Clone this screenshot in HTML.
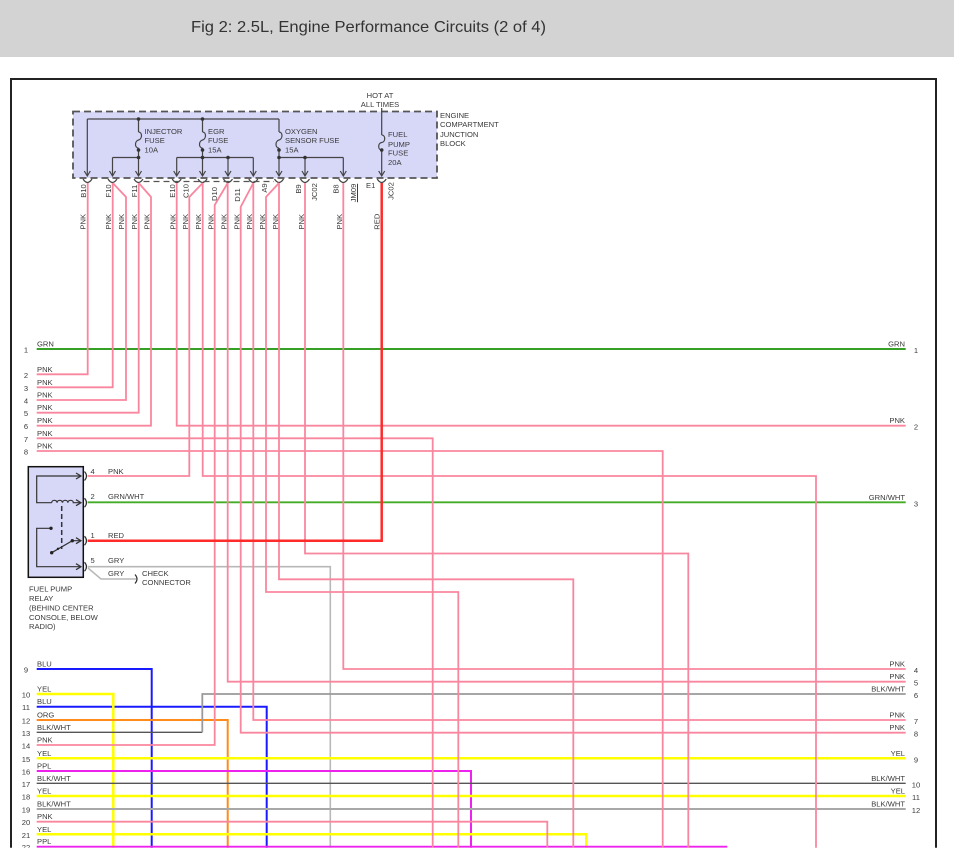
<!DOCTYPE html>
<html>
<head>
<meta charset="utf-8">
<style>
  html,body{margin:0;padding:0;background:#fff;}
  svg{display:block;}
  text{font-family:"Liberation Sans",Arial,sans-serif;fill:#3a3a3a;font-size:7.6px;}
</style>
</head>
<body>
<svg width="954" height="863" viewBox="0 0 954 863" xmlns="http://www.w3.org/2000/svg">
  <defs>
    <clipPath id="cp"><rect x="0" y="0" width="954" height="847.8"/></clipPath>
  </defs>
  <rect x="0" y="0" width="954" height="863" fill="#fff"/>
  <!-- header -->
  <rect x="0" y="0" width="954" height="57" fill="#d3d3d3"/>
  <text x="191" y="32" style="font-size:16px;fill:#333" textLength="355" lengthAdjust="spacingAndGlyphs">Fig 2: 2.5L, Engine Performance Circuits (2 of 4)</text>

  <g clip-path="url(#cp)">
    <!-- border -->
    <path d="M11,848 V79 H936 V848" fill="none" stroke="#222" stroke-width="2"/>

    <!-- junction block -->
    <rect x="73" y="111.5" width="364" height="66.5" fill="#d7d7f8" stroke="#555" stroke-width="1.8" stroke-dasharray="7,4"/>
    <g fill="none" stroke="#444" stroke-width="1.2">
      <path d="M87.3,119 H279"/>
      <path d="M87.3,119 V176"/>
      <path d="M138.5,119 V132 M138.5,148 V176"/>
      <path d="M202.5,119 V132 M202.5,148 V176"/>
      <path d="M279,119 V132 M279,148 V176"/>
      <path d="M381.7,108 V135 M381.7,150 V176"/>
      <path d="M112.5,157.5 H138.5 M112.5,157.5 V176"/>
      <path d="M176.7,157.5 H253.3 M176.7,157.5 V176 M228,157.5 V176 M253.3,157.5 V176"/>
      <path d="M279,157.5 H343.3 M305,157.5 V176 M343.3,157.5 V176"/>
      <!-- fuses -->
      <path d="M138.5,132 C142.5,132 142.5,139 138.5,140 C134.5,141 134.5,148 138.5,148"/>
      <path d="M202.5,132 C206.5,132 206.5,139 202.5,140 C198.5,141 198.5,148 202.5,148"/>
      <path d="M279,132 C283,132 283,139 279,140 C275,141 275,148 279,148"/>
      <path d="M381.7,135 C385.7,135 385.7,142 381.7,142.5 C377.7,143 377.7,150 381.7,150"/>
      <!-- arrows -->
      <path d="M84.3,171 L87.3,176 L90.3,171"/>
      <path d="M109.5,171 L112.5,176 L115.5,171"/>
      <path d="M135.5,171 L138.5,176 L141.5,171"/>
      <path d="M173.7,171 L176.7,176 L179.7,171"/>
      <path d="M199.5,171 L202.5,176 L205.5,171"/>
      <path d="M225,171 L228,176 L231,171"/>
      <path d="M250.3,171 L253.3,176 L256.3,171"/>
      <path d="M276,171 L279,176 L282,171"/>
      <path d="M302,171 L305,176 L308,171"/>
      <path d="M340.3,171 L343.3,176 L346.3,171"/>
      <path d="M378.7,171 L381.7,176 L384.7,171"/>
      <!-- connector arcs -->
      <path d="M83,179 Q87.5,186 92,179"/>
      <path d="M108,179 Q112.5,186 117,179"/>
      <path d="M134,179 Q138.5,186 143,179"/>
      <path d="M172.2,179 Q176.7,186 181.2,179"/>
      <path d="M198,179 Q202.5,186 207,179"/>
      <path d="M223.5,179 Q228,186 232.5,179"/>
      <path d="M248.8,179 Q253.3,186 257.8,179"/>
      <path d="M274.5,179 Q279,186 283.5,179"/>
      <path d="M300.5,179 Q305,186 309.5,179"/>
      <path d="M338.8,179 Q343.3,186 347.8,179"/>
      <path d="M377.2,179 Q381.7,186 386.2,179"/>
      <path d="M143.5,181.5 H274" stroke-dasharray="6,4" stroke="#555"/>
    </g>
    <g fill="#333">
      <circle cx="138.5" cy="119" r="1.8"/><circle cx="202.5" cy="119" r="1.8"/>
      <circle cx="138.5" cy="150" r="1.8"/><circle cx="138.5" cy="157.5" r="1.8"/>
      <circle cx="202.5" cy="150" r="1.8"/><circle cx="202.5" cy="157.5" r="1.8"/>
      <circle cx="228" cy="157.5" r="1.8"/>
      <circle cx="279" cy="150" r="1.8"/><circle cx="279" cy="157.5" r="1.8"/>
      <circle cx="305" cy="157.5" r="1.8"/>
      <circle cx="381.7" cy="150" r="1.8"/>
    </g>

    <!-- top labels -->
    <text x="380" y="98" text-anchor="middle">HOT AT</text>
    <text x="380" y="107" text-anchor="middle">ALL TIMES</text>
    <text x="440" y="118">ENGINE</text>
    <text x="440" y="127">COMPARTMENT</text>
    <text x="440" y="137">JUNCTION</text>
    <text x="440" y="146">BLOCK</text>
    <text x="144.5" y="134">INJECTOR</text>
    <text x="144.5" y="143">FUSE</text>
    <text x="144.5" y="152.5">10A</text>
    <text x="208" y="134">EGR</text>
    <text x="208" y="143">FUSE</text>
    <text x="208" y="152.5">15A</text>
    <text x="285" y="134">OXYGEN</text>
    <text x="285" y="143">SENSOR FUSE</text>
    <text x="285" y="152.5">15A</text>
    <text x="388" y="137">FUEL</text>
    <text x="388" y="147">PUMP</text>
    <text x="388" y="155.5">FUSE</text>
    <text x="388" y="165">20A</text>

    <!-- pin labels (rotated) -->
    <text transform="translate(86,191) rotate(-90)" text-anchor="middle">B10</text>
    <text transform="translate(111,191) rotate(-90)" text-anchor="middle">F10</text>
    <text transform="translate(137,191) rotate(-90)" text-anchor="middle">F11</text>
    <text transform="translate(175,191) rotate(-90)" text-anchor="middle">E10</text>
    <text transform="translate(188.5,191) rotate(-90)" text-anchor="middle">C10</text>
    <text transform="translate(217,194) rotate(-90)" text-anchor="middle">D10</text>
    <text transform="translate(240,195) rotate(-90)" text-anchor="middle">D11</text>
    <text transform="translate(267,188) rotate(-90)" text-anchor="middle">A9</text>
    <text transform="translate(301,189) rotate(-90)" text-anchor="middle">B9</text>
    <text transform="translate(317,192) rotate(-90)" text-anchor="middle">JC02</text>
    <text transform="translate(338.5,189) rotate(-90)" text-anchor="middle">B8</text>
    <text transform="translate(356,193) rotate(-90)" text-anchor="middle" text-decoration="underline">JM09</text>
    <line x1="357.5" y1="184" x2="357.5" y2="202" stroke="#333" stroke-width="0.8"/>
    <text x="366" y="188">E1</text>
    <text transform="translate(393.5,191) rotate(-90)" text-anchor="middle">JC02</text>

    <!-- wire color labels (rotated) -->
    <g>
      <text transform="translate(85.5,221.7) rotate(-90)" text-anchor="middle">PNK</text>
      <text transform="translate(111,221.7) rotate(-90)" text-anchor="middle">PNK</text>
      <text transform="translate(124,221.7) rotate(-90)" text-anchor="middle">PNK</text>
      <text transform="translate(137,221.7) rotate(-90)" text-anchor="middle">PNK</text>
      <text transform="translate(149.5,221.7) rotate(-90)" text-anchor="middle">PNK</text>
      <text transform="translate(175.5,221.7) rotate(-90)" text-anchor="middle">PNK</text>
      <text transform="translate(188,221.7) rotate(-90)" text-anchor="middle">PNK</text>
      <text transform="translate(200.8,221.7) rotate(-90)" text-anchor="middle">PNK</text>
      <text transform="translate(213.5,221.7) rotate(-90)" text-anchor="middle">PNK</text>
      <text transform="translate(226.5,221.7) rotate(-90)" text-anchor="middle">PNK</text>
      <text transform="translate(239.5,221.7) rotate(-90)" text-anchor="middle">PNK</text>
      <text transform="translate(252,221.7) rotate(-90)" text-anchor="middle">PNK</text>
      <text transform="translate(265,221.7) rotate(-90)" text-anchor="middle">PNK</text>
      <text transform="translate(278,221.7) rotate(-90)" text-anchor="middle">PNK</text>
      <text transform="translate(304,221.7) rotate(-90)" text-anchor="middle">PNK</text>
      <text transform="translate(342,221.7) rotate(-90)" text-anchor="middle">PNK</text>
      <text transform="translate(379.5,221.7) rotate(-90)" text-anchor="middle">RED</text>
    </g>

    <!-- wires -->
    <g fill="none" stroke-linejoin="miter">
      <!-- green -->
      <path d="M36.7,349 H905.7" stroke="#35a025" stroke-width="2"/>
      <path d="M87.7,502.3 H905.7" stroke="#45ac28" stroke-width="1.8"/>
      <!-- gray from relay pin 5 -->
      <path d="M87.7,566.7 H330.3 V848" stroke="#b8b8b8" stroke-width="1.6"/>
      <path d="M88,568 L101,579 H136" stroke="#b8b8b8" stroke-width="1.5"/>
      <!-- bottom-left colored rows -->
      <path d="M36.7,669 H151.7 V848" stroke="#1a1aff" stroke-width="2"/>
      <path d="M36.7,706.7 H266.7 V848" stroke="#1a1aff" stroke-width="2"/>
      <path d="M36.7,694 H113.3 V848" stroke="#ffff00" stroke-width="2.5"/>
      <path d="M36.7,720 H227.7 V848" stroke="#ff8c1a" stroke-width="2"/>
      <path d="M36.7,732.3 H202.3" stroke="#555" stroke-width="1.3"/>
      <path d="M202.3,732.3 V694 H905.7" stroke="#9a9a9a" stroke-width="1.8"/>
      <path d="M36.7,758.3 H905.7" stroke="#ffff00" stroke-width="2.5"/>
      <path d="M36.7,771 H471 V848" stroke="#ee22ee" stroke-width="2"/>
      <path d="M36.7,783.3 H905.7" stroke="#555" stroke-width="1.3"/>
      <path d="M36.7,796 H905.7" stroke="#ffff00" stroke-width="2.5"/>
      <path d="M36.7,809 H905.7" stroke="#a8a8a8" stroke-width="2"/>
      <path d="M36.7,834.3 H586.3 V848" stroke="#ffff00" stroke-width="2.5"/>
      <path d="M36.7,846.7 H727.3" stroke="#ee22ee" stroke-width="2"/>
      <!-- pink -->
      <g stroke="#f9869f" stroke-width="1.8">
        <path d="M87.7,183 V374.3 H36.7"/>
        <path d="M112.7,183 V387.3 H36.7"/>
        <path d="M112.7,183 L126,197 V400 H36.7"/>
        <path d="M138.7,183 V412.7 H36.7"/>
        <path d="M138.7,183 L151,197 V425.7 H36.7"/>
        <path d="M176.7,183 V425.7 H905.7"/>
        <path d="M202.7,183 L189.3,197 V476 H87.7"/>
        <path d="M202.7,183 V476 H816 V848"/>
        <path d="M227.7,183 L214.7,205 V745 H36.7"/>
        <path d="M227.7,183 V681.7 H905.7"/>
        <path d="M253.3,183 L240.7,207 V732.7 H905.7"/>
        <path d="M253.3,183 V720 H905.7"/>
        <path d="M279,183 L266,197 V592 H458.3 V848"/>
        <path d="M279,183 V579.3 H573.3 V848"/>
        <path d="M305,183 V553.5 H688.3 V848"/>
        <path d="M343.3,183 V669 H905.7"/>
        <path d="M36.7,438.3 H432.7 V848"/>
        <path d="M36.7,451 H662.7 V848"/>
        <path d="M36.7,821.7 H547.3 V848"/>
      </g>
      <!-- red -->
      <path d="M381.7,183 V540.7 H87.7" stroke="#ff2a2a" stroke-width="2.5"/>
    </g>

    <!-- relay -->
    <rect x="28.3" y="466.7" width="55" height="110.6" fill="#d7d7f8" stroke="#111" stroke-width="1.5"/>
    <g fill="none" stroke="#333" stroke-width="1.2">
      <path d="M80,476 H36.7 V502.7 H51.7"/>
      <path d="M51.7,502.7 a2.7,2.4 0 0 1 5.4,0 a2.7,2.4 0 0 1 5.4,0 a2.7,2.4 0 0 1 5.4,0 a2.7,2.4 0 0 1 5.4,0 H80"/>
      <path d="M61.7,506 V549" stroke-dasharray="5,3" stroke-width="1.5"/>
      <path d="M51,528.3 H36.7 V566.7 H80"/>
      <path d="M51.7,552.7 L72.3,540.7 H80"/>
      <path d="M76,473 L81,476 L76,479"/>
      <path d="M76,499.7 L81,502.7 L76,505.7"/>
      <path d="M76,537.7 L81,540.7 L76,543.7"/>
      <path d="M76,563.7 L81,566.7 L76,569.7"/>
      <path d="M84.5,471.5 Q88.5,476 84.5,480.5"/>
      <path d="M84.5,498.2 Q88.5,502.7 84.5,507.2"/>
      <path d="M84.5,536.2 Q88.5,540.7 84.5,545.2"/>
      <path d="M84.5,562.2 Q88.5,566.7 84.5,571.2"/>
      <path d="M135,574.5 Q139,579 135,583.5"/>
    </g>
    <g fill="#222">
      <circle cx="51" cy="528.3" r="1.7"/>
      <circle cx="51.7" cy="552.7" r="1.7"/>
      <circle cx="72.3" cy="540.7" r="1.7"/>
      <circle cx="58" cy="548.8" r="1.2"/>
    </g>
    <text x="90.5" y="474">4</text><text x="108" y="474">PNK</text>
    <text x="90.5" y="499">2</text><text x="108" y="499">GRN/WHT</text>
    <text x="90.5" y="538">1</text><text x="108" y="538">RED</text>
    <text x="90.5" y="563">5</text><text x="108" y="563">GRY</text>
    <text x="108" y="576">GRY</text>
    <text x="142" y="576">CHECK</text>
    <text x="142" y="585">CONNECTOR</text>
    <text x="29" y="591.5">FUEL PUMP</text>
    <text x="29" y="601">RELAY</text>
    <text x="29" y="610.3">(BEHIND CENTER</text>
    <text x="29" y="620">CONSOLE, BELOW</text>
    <text x="29" y="629">RADIO)</text>

    <!-- left row labels -->
    <g>
      <text x="26" y="352.5" text-anchor="middle">1</text><text x="37" y="346.5">GRN</text>
      <text x="26" y="377.8" text-anchor="middle">2</text><text x="37" y="371.8">PNK</text>
      <text x="26" y="390.8" text-anchor="middle">3</text><text x="37" y="384.8">PNK</text>
      <text x="26" y="403.5" text-anchor="middle">4</text><text x="37" y="397.5">PNK</text>
      <text x="26" y="416.2" text-anchor="middle">5</text><text x="37" y="410.2">PNK</text>
      <text x="26" y="429.2" text-anchor="middle">6</text><text x="37" y="423.2">PNK</text>
      <text x="26" y="441.8" text-anchor="middle">7</text><text x="37" y="435.8">PNK</text>
      <text x="26" y="454.5" text-anchor="middle">8</text><text x="37" y="448.5">PNK</text>
      <text x="26" y="672.5" text-anchor="middle">9</text><text x="37" y="666.5">BLU</text>
      <text x="26" y="697.5" text-anchor="middle">10</text><text x="37" y="691.5">YEL</text>
      <text x="26" y="710.2" text-anchor="middle">11</text><text x="37" y="704.2">BLU</text>
      <text x="26" y="723.5" text-anchor="middle">12</text><text x="37" y="717.5">ORG</text>
      <text x="26" y="735.8" text-anchor="middle">13</text><text x="37" y="729.8">BLK/WHT</text>
      <text x="26" y="748.5" text-anchor="middle">14</text><text x="37" y="742.5">PNK</text>
      <text x="26" y="761.8" text-anchor="middle">15</text><text x="37" y="755.8">YEL</text>
      <text x="26" y="774.5" text-anchor="middle">16</text><text x="37" y="768.5">PPL</text>
      <text x="26" y="786.8" text-anchor="middle">17</text><text x="37" y="780.8">BLK/WHT</text>
      <text x="26" y="799.5" text-anchor="middle">18</text><text x="37" y="793.5">YEL</text>
      <text x="26" y="812.5" text-anchor="middle">19</text><text x="37" y="806.5">BLK/WHT</text>
      <text x="26" y="825.2" text-anchor="middle">20</text><text x="37" y="819.2">PNK</text>
      <text x="26" y="837.8" text-anchor="middle">21</text><text x="37" y="831.8">YEL</text>
      <text x="26" y="850.2" text-anchor="middle">22</text><text x="37" y="844.2">PPL</text>
    </g>

    <!-- right row labels -->
    <g>
      <text x="905" y="346.5" text-anchor="end">GRN</text><text x="916" y="353" text-anchor="middle">1</text>
      <text x="905" y="423.2" text-anchor="end">PNK</text><text x="916" y="429.7" text-anchor="middle">2</text>
      <text x="905" y="499.8" text-anchor="end">GRN/WHT</text><text x="916" y="506.3" text-anchor="middle">3</text>
      <text x="905" y="666.5" text-anchor="end">PNK</text><text x="916" y="673" text-anchor="middle">4</text>
      <text x="905" y="679.2" text-anchor="end">PNK</text><text x="916" y="685.7" text-anchor="middle">5</text>
      <text x="905" y="691.5" text-anchor="end">BLK/WHT</text><text x="916" y="698" text-anchor="middle">6</text>
      <text x="905" y="717.5" text-anchor="end">PNK</text><text x="916" y="724" text-anchor="middle">7</text>
      <text x="905" y="730.2" text-anchor="end">PNK</text><text x="916" y="736.7" text-anchor="middle">8</text>
      <text x="905" y="755.8" text-anchor="end">YEL</text><text x="916" y="762.3" text-anchor="middle">9</text>
      <text x="905" y="780.8" text-anchor="end">BLK/WHT</text><text x="916" y="787.3" text-anchor="middle">10</text>
      <text x="905" y="793.5" text-anchor="end">YEL</text><text x="916" y="800" text-anchor="middle">11</text>
      <text x="905" y="806.5" text-anchor="end">BLK/WHT</text><text x="916" y="813" text-anchor="middle">12</text>
    </g>
  </g>
</svg>
</body>
</html>
